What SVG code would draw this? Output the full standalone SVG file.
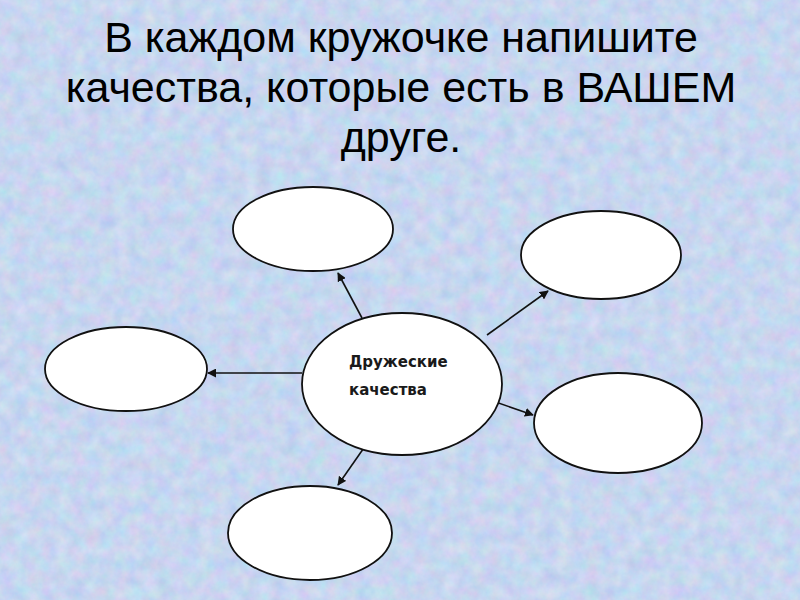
<svg xmlns="http://www.w3.org/2000/svg" width="800" height="600" viewBox="0 0 800 600">
<defs>
<style>
.title{font-family:"Liberation Sans",Arial,sans-serif;font-size:43px;fill:#000;text-anchor:middle}
.node ellipse{fill:#fff;stroke:#111;stroke-width:1.8}
.lbl{font-family:"DejaVu Sans",Verdana,sans-serif;font-size:15px;font-weight:bold;fill:#1a1a1a}
.conn line{stroke:#111;stroke-width:1.6;marker-end:url(#ah)}
</style>
<marker id="ah" viewBox="0 0 10 10" refX="9" refY="5" markerWidth="9" markerHeight="9" markerUnits="userSpaceOnUse" orient="auto">
<path d="M0,0 L10,5 L0,10 z" fill="#111"/>
</marker>
<filter id="tex" x="0" y="0" width="100%" height="100%" color-interpolation-filters="sRGB">
<feTurbulence type="fractalNoise" baseFrequency="0.07" numOctaves="4" seed="7"/>
<feColorMatrix type="matrix" values="0.2 0 0 0 0.68  0 0.14 0 0 0.77  0 0 0.08 0 0.9  0 0 0 0 1"/>
</filter>
</defs>
<rect width="800" height="600" fill="#c6d5f0"/>
<rect width="800" height="600" filter="url(#tex)"/>
<g id="title">
<text class="title" x="401" y="52">В каждом кружочке напишите</text>
<text class="title" x="401" y="102">качества, которые есть в ВАШЕМ</text>
<text class="title" x="401" y="152">друге.</text>
</g>
<g class="conn" id="connectors">
<line x1="362" y1="318" x2="338" y2="273"/>
<line x1="487" y1="335" x2="548" y2="291"/>
<line x1="302" y1="373" x2="208" y2="373"/>
<line x1="375" y1="432" x2="338" y2="485"/>
<line x1="487" y1="399" x2="533" y2="415"/>
</g>
<g class="node" id="center">
<ellipse cx="402" cy="384" rx="100" ry="71"/>
<text class="lbl" x="349" y="367">Дружеские</text>
<text class="lbl" x="349" y="395">качества</text>
</g>
<g class="node" id="top"><ellipse cx="313" cy="229" rx="80" ry="42"/></g>
<g class="node" id="topright"><ellipse cx="601" cy="255" rx="80" ry="44"/></g>
<g class="node" id="left"><ellipse cx="126" cy="369" rx="81" ry="42"/></g>
<g class="node" id="bottom"><ellipse cx="310" cy="533" rx="82" ry="47"/></g>
<g class="node" id="bottomright"><ellipse cx="618" cy="423" rx="84" ry="50"/></g>
</svg>
